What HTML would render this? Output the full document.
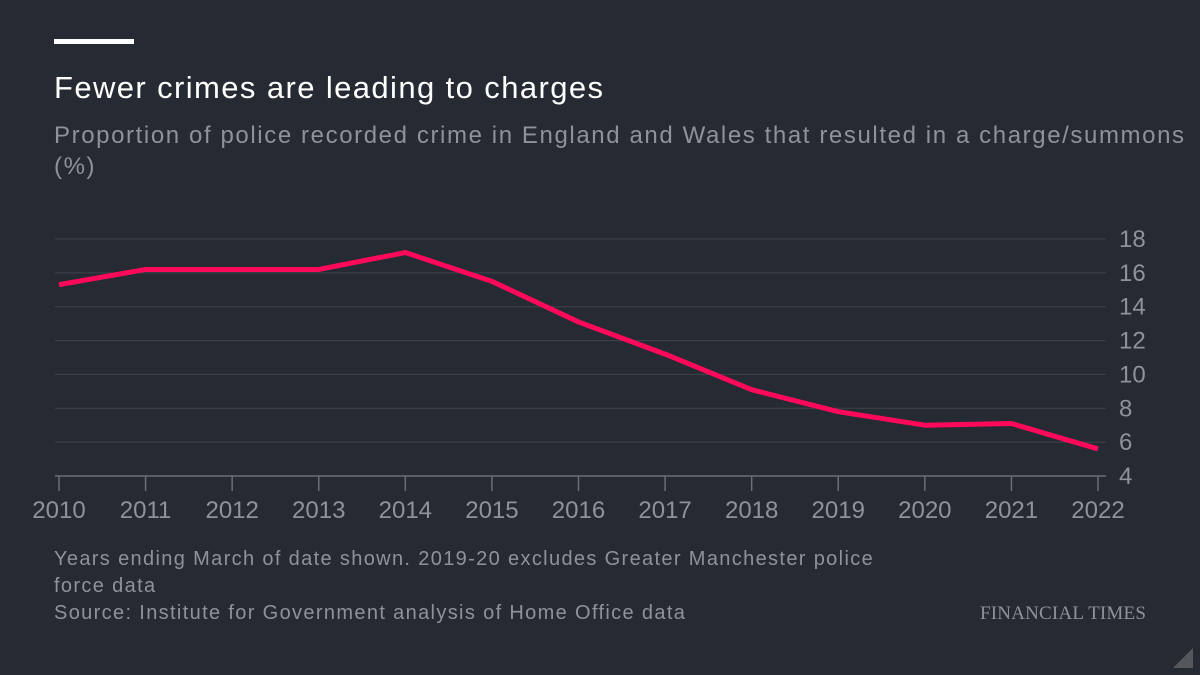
<!DOCTYPE html>
<html><head><meta charset="utf-8"><style>
body{margin:0;width:1200px;height:675px;background:#262a33;overflow:hidden;font-family:"Liberation Sans",sans-serif;position:relative}
.t{position:absolute;white-space:nowrap}
</style></head><body>
<div style="position:absolute;left:54px;top:39px;width:80px;height:5px;background:#fff"></div>
<div class="t" style="left:54px;top:70px;font-size:31px;letter-spacing:1.4px;color:#fff">Fewer crimes are leading to charges</div>
<div class="t" style="left:54px;top:120px;font-size:24px;letter-spacing:1.6px;color:#8f9299;line-height:31px">Proportion of police recorded crime in England and Wales that resulted in a charge/summons<br>(%)</div>
<svg id="c" width="1200" height="675" style="position:absolute;left:0;top:0"></svg>
<div class="t" style="left:54px;top:546px;font-size:20px;letter-spacing:1.35px;color:#8f9299;line-height:27px">Years ending March of date shown. 2019-20 excludes Greater Manchester police<br>force data<br>Source: Institute for Government analysis of Home Office data</div>
<div class="t" style="left:980px;top:603px;font-family:'Liberation Serif',serif;font-size:19px;letter-spacing:0.2px;color:#8f9299">FINANCIAL TIMES</div>
<div style="position:absolute;left:1173px;top:648px;width:0;height:0;border-left:20px solid transparent;border-bottom:20px solid #55575d"></div>
<script>
const years=[2010,2011,2012,2013,2014,2015,2016,2017,2018,2019,2020,2021,2022];
const values=[15.3,16.2,16.2,16.2,17.2,15.5,13.1,11.2,9.1,7.8,7.0,7.1,5.6];
const yTicks=[4,6,8,10,12,14,16,18];
const NS="http://www.w3.org/2000/svg",svg=document.getElementById('c');
const x=v=>59+(v-2010)*(1098-59)/12;
const y=v=>476-(v-4)*(476-239)/14;
function mk(t,a){const e=document.createElementNS(NS,t);for(const k in a)e.setAttribute(k,a[k]);svg.appendChild(e);return e;}
yTicks.forEach(v=>{
 const l=mk('line',{x1:55,x2:1106,y1:y(v),y2:y(v),stroke:v===4?'#6b6e75':'#40434b','stroke-width':v===4?1.5:1});
 
 
 const t=mk('text',{x:1119,y:y(v)+8,fill:'#8f9299','font-size':24,'font-family':'Liberation Sans, sans-serif'});
 t.textContent=v;
 
 
});
years.forEach(v=>{
 const l=mk('line',{x1:x(v),x2:x(v),y1:476,y2:491,stroke:'#6b6e75','stroke-width':1.5});
 
 
 const t=mk('text',{x:x(v),y:518,fill:'#8f9299','font-size':24,'text-anchor':'middle','font-family':'Liberation Sans, sans-serif'});
 t.textContent=v;
 
 
});
const p=mk('polyline',{points:years.map((v,i)=>x(v)+','+y(values[i])).join(' '),fill:'none',stroke:'#ff0a5a','stroke-width':5,'stroke-linejoin':'round'});


</script>
</body></html>
